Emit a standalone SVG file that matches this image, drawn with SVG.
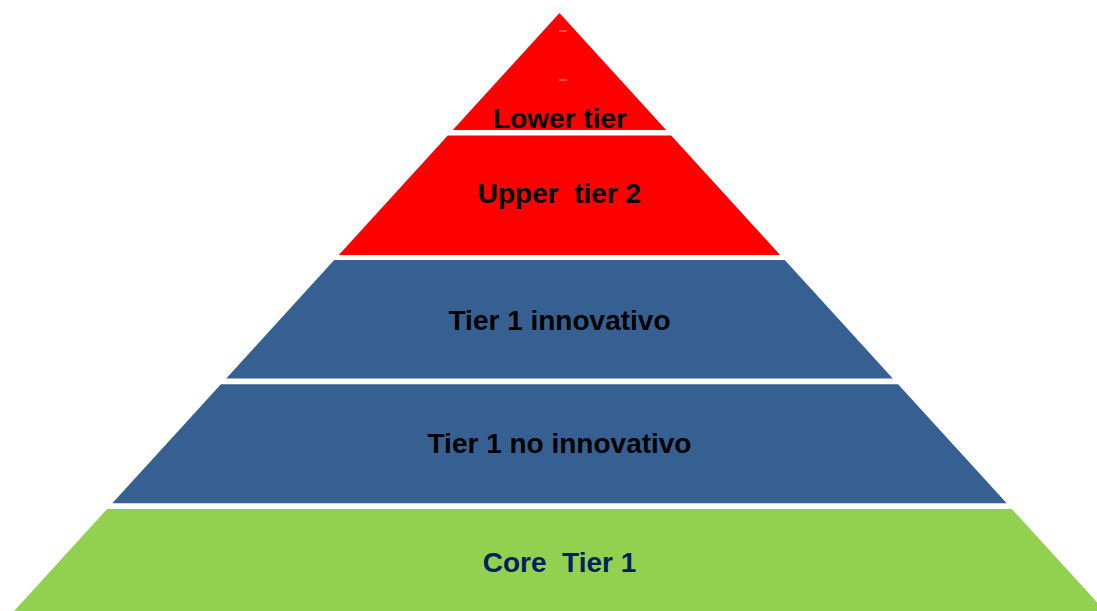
<svg xmlns="http://www.w3.org/2000/svg" width="1097" height="611" viewBox="0 0 1097 611">
<style>
.red{fill:#ff0000}
.blue{fill:#376092}
.green{fill:#92d050}
.lbl{font-family:"Liberation Sans",Arial,sans-serif;font-weight:bold;font-size:28px;text-anchor:middle;fill:#000}
.navy{fill:#002060}
.mark{fill:#ff9a9a}
</style>
<rect width="1097" height="611" fill="#ffffff"/>
<g id="lower-tier">
<polygon class="red" points="559.5,13 666.2,130 452.8,130"/>
<rect class="mark" x="559" y="30.5" width="8" height="1"/>
<rect class="mark" x="559" y="79.5" width="8" height="1"/>
<text class="lbl" x="560" y="128">Lower tier</text>
</g>
<g id="upper-tier-2">
<polygon class="red" points="447.8,135.5 671.2,135.5 780.2,255 338.8,255"/>
<text class="lbl" x="559.5" y="203" xml:space="preserve">Upper  tier 2</text>
</g>
<g id="tier1-innovativo">
<polygon class="blue" points="334.2,260 784.8,260 892.8,378.5 226.2,378.5"/>
<text class="lbl" x="559.5" y="329.5">Tier 1 innovativo</text>
</g>
<g id="tier1-no-innovativo">
<polygon class="blue" points="220.9,384.3 898.1,384.3 1006.7,503.3 112.3,503.3"/>
<text class="lbl" x="559.5" y="453">Tier 1 no innovativo</text>
</g>
<g id="core-tier1">
<polygon class="green" points="107.1,509 1011.9,509 1104.9,611 14.1,611"/>
<text class="lbl navy" x="559.5" y="572" xml:space="preserve">Core  Tier 1</text>
</g>
<g id="connectors"></g>
</svg>
